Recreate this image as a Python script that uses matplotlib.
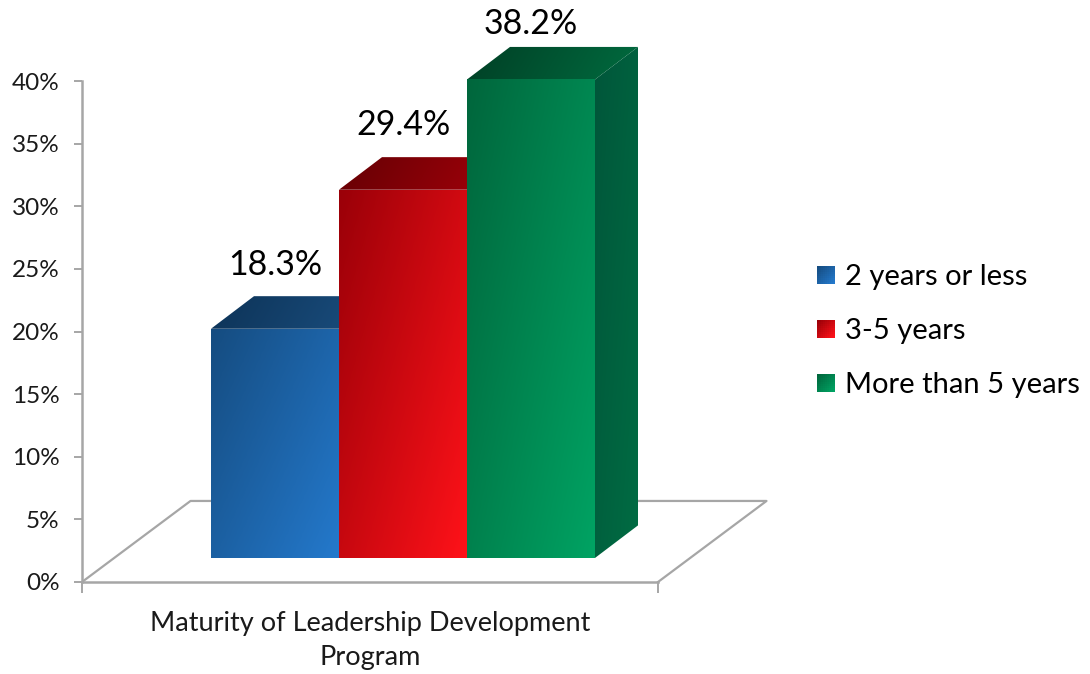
import numpy as np
import matplotlib
matplotlib.use("Agg")
import matplotlib.pyplot as plt
from matplotlib.patches import Polygon, Rectangle
from matplotlib.colors import LinearSegmentedColormap
from matplotlib.legend_handler import HandlerBase

# ---- data ----
category = "Maturity of Leadership Development\nProgram"
series = ["2 years or less", "3-5 years", "More than 5 years"]
values = [18.3, 29.4, 38.2]
y_ticks = [0, 5, 10, 15, 20, 25, 30, 35, 40]

# ---- colours: (dark corner, light corner) ----
front_cols = [("#154c80", "#2479cc"), ("#9a0008", "#ff1219"), ("#00663c", "#00a363")]
top_cols = [("#0d3357", "#1b5082"), ("#650004", "#a5000a"), ("#003f25", "#006b3f")]
side_cols = [("#103a61", "#174f82"), ("#7a0006", "#a00008"), ("#00563a", "#006c43")]
label_lift = [5.1, 5.2, 4.45]

W, H = 1090, 674
AX_L, AX_R, AX_T, AX_B = 82, 658, 81, 582
BAR_W = 128 / 576
GROUP_L = 129 / 576
BASE = 1.92            # floor height of the bars' front edge, in %
DX, DY = 43 / 576, 2.6   # bar depth
FDX, FDY = 108.5 / 576, 6.47  # floor depth

plt.rcParams["font.family"] = ["Lato", "DejaVu Sans"]
fig = plt.figure(figsize=(W / 100, H / 100), dpi=100, facecolor="white")
ax = fig.add_axes([AX_L / W, 1 - AX_B / H, (AX_R - AX_L) / W, (AX_B - AX_T) / H])
ax.patch.set_alpha(0)
GRAY = "#a6a6a6"


def gradient(ax, poly, c0, c1, angle, z):
    """Fill polygon with a linear gradient running from dark top-left to light bottom-right."""
    poly = np.asarray(poly)
    x0, x1, y0, y1 = poly[:, 0].min(), poly[:, 0].max(), poly[:, 1].min(), poly[:, 1].max()
    xx, yy = np.meshgrid(np.linspace(0, 1, 120), np.linspace(0, 1, 120))
    g = angle * xx + (1 - angle) * yy
    cmap = LinearSegmentedColormap.from_list("g", [c0, c1])
    im = ax.imshow(g, cmap=cmap, vmin=0, vmax=1, extent=[x0, x1, y0, y1], origin="upper",
                   aspect="auto", zorder=z, interpolation="bilinear")
    clip = Polygon(poly, closed=True, transform=ax.transData)
    im.set_clip_path(clip)
    im.set_clip_box(fig.bbox)
    im.set_clip_on(True)


# floor
floor = [(0, 0), (FDX, FDY), (1 + FDX, FDY), (1, 0)]
ax.plot(*zip(*floor), color=GRAY, lw=1.6, zorder=1, clip_on=False)

# bars
for i, v in enumerate(values):
    x0 = GROUP_L + i * BAR_W
    x1 = x0 + BAR_W
    top = BASE + v
    z = 3 + i * 3
    gradient(ax, [(x1, BASE), (x1 + DX, BASE + DY), (x1 + DX, top + DY), (x1, top)], *side_cols[i], 0.5, z)
    gradient(ax, [(x0, top), (x0 + DX, top + DY), (x1 + DX, top + DY), (x1, top)], *top_cols[i], 0.9, z + 1)
    gradient(ax, [(x0, BASE), (x0, top), (x1, top), (x1, BASE)], *front_cols[i], 0.55, z + 2)
    ax.text((x0 + x1) / 2, top + label_lift[i], f"{v}%", ha="center", va="center",
            fontsize=24.5, color="black", zorder=20, clip_on=False)

ax.set_xlim(0, 1)
ax.set_ylim(0, 40)

# axes
for s in ("top", "right"):
    ax.spines[s].set_visible(False)
for s in ("left", "bottom"):
    ax.spines[s].set_color(GRAY)
    ax.spines[s].set_linewidth(1.8)
ax.set_yticks(y_ticks)
ax.set_yticklabels([f"{t}%" for t in y_ticks], fontsize=17.5, color="#1a1a1a")
ax.tick_params(axis="y", length=6, width=1.4, color=GRAY, pad=10)
ax.set_xticks([0.5])
ax.set_xticklabels([category], fontsize=19.5, color="#1a1a1a", linespacing=1.46)
ax.tick_params(axis="x", which="major", length=0, pad=21)
ax.set_xticks([0, 1], minor=True)
ax.tick_params(axis="x", which="minor", length=8, width=1.4, color=GRAY)


# legend with gradient swatches
class GradientHandler(HandlerBase):
    def __init__(self, c0, c1):
        super().__init__()
        self.c0, self.c1 = c0, c1

    def create_artists(self, legend, orig, xd, yd, width, height, fontsize, trans):
        cmap = LinearSegmentedColormap.from_list("h", [self.c0, self.c1])
        n = 9
        s = min(width, height)
        arts = []
        for a in range(n):
            for b in range(n):
                r = Rectangle((-xd + a * s / n, -yd + b * s / n), s / n + 0.2, s / n + 0.2,
                              fc=cmap((a + (n - 1 - b)) / (2 * n - 2)), ec="none",
                              transform=trans, antialiased=False)
                arts.append(r)
        return arts


handles = [Rectangle((0, 0), 1, 1) for _ in series]
leg = ax.legend(handles, series, loc="upper left",
                bbox_to_anchor=(817 / W, 1 - 264 / H), bbox_transform=fig.transFigure,
                frameon=False, fontsize=21, labelspacing=0.955, handlelength=0.62, handleheight=0.62,
                handletextpad=0.34, borderpad=0, borderaxespad=0,
                handler_map={h: GradientHandler(*c) for h, c in zip(handles, front_cols)})
for t in leg.get_texts():
    t.set_color("black")

fig.savefig("out.png", dpi=100, facecolor="white")
